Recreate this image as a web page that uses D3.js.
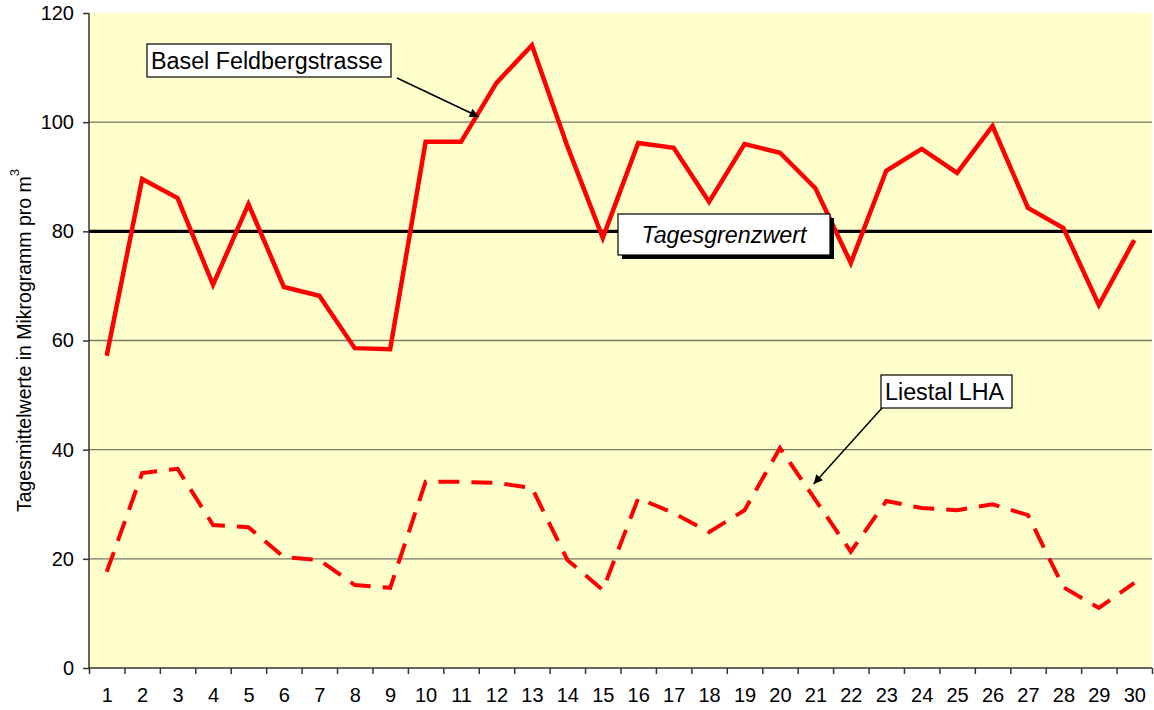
<!DOCTYPE html>
<html>
<head>
<meta charset="utf-8">
<script src="https://cdn.jsdelivr.net/npm/d3@7"></script>
<style>
    body { margin: 0; background: #ffffff; }
    svg { font-family: "Liberation Sans", Arial, sans-serif; display: block; }
</style>
</head>
<body>
<div id="chart"></div>
<script>
// days of the month
var days = d3.range(1, 31);

// Tagesmittelwerte (Mikrogramm pro m3)
var basel = [57.2, 89.6, 86.1, 70.2, 85.0, 69.8, 68.2, 58.6, 58.4, 96.4,
             96.4, 107.2, 114.1, 95.6, 78.8, 96.2, 95.3, 85.4, 96.0, 94.4,
             87.9, 74.2, 91.1, 95.1, 90.7, 99.3, 84.3, 80.6, 66.5, 78.4];
var liestal = [17.6, 35.7, 36.5, 26.2, 25.8, 20.3, 19.8, 15.2, 14.7, 34.1,
               34.1, 33.9, 33.0, 19.8, 14.3, 31.1, 28.4, 24.9, 28.9, 40.3,
               30.8, 21.3, 30.6, 29.3, 28.9, 30.0, 28.0, 14.8, 11.0, 15.6];
var grenzwert = 80;
var yTicks = [0, 20, 40, 60, 80, 100, 120];

(function(){

    var width = 1154,
        height = 710;
    var margin = {top: 13, right: 2, bottom: 42, left: 89};
    var plotW = width - margin.left - margin.right,
        plotH = height - margin.top - margin.bottom;

    var svg = d3.select("#chart")
        .append("svg")
        .attr("width", width)
        .attr("height", height);

    // arrow head
    svg.append("defs").append("marker")
        .attr("id", "arrow")
        .attr("viewBox", "0 0 10 10")
        .attr("refX", 10)
        .attr("refY", 5)
        .attr("markerWidth", 8)
        .attr("markerHeight", 6)
        .attr("markerUnits", "strokeWidth")
        .attr("orient", "auto")
        .append("path")
        .attr("d", "M0,0 L10,5 L0,10 Z")
        .attr("fill", "#000");

    var g = svg.append("g")
        .attr("transform", "translate(" + margin.left + "," + margin.top + ")");

    // categories sit in the middle of their slot
    var x = d3.scaleLinear().domain([0.5, 30.5]).range([0, plotW]);
    var y = d3.scaleLinear().domain([0, 120]).range([plotH, 0]);

    g.append("rect")
        .attr("width", plotW)
        .attr("height", plotH)
        .attr("fill", "#ffffcc");

    // gridlines
    g.selectAll(".grid")
        .data(yTicks.filter(function(d){ return d > 0 && d < 120; }))
        .enter()
        .append("line")
        .attr("class", "grid")
        .attr("x1", 0)
        .attr("x2", plotW)
        .attr("y1", function(d){ return y(d); })
        .attr("y2", function(d){ return y(d); })
        .attr("stroke", "#77776a")
        .attr("stroke-width", 1.3);

    // y axis
    var yAxis = g.append("g")
        .call(d3.axisLeft(y).tickValues(yTicks).tickSize(6).tickPadding(9));
    yAxis.selectAll("text").attr("font-size", "20px").attr("fill", "#000");
    yAxis.selectAll("line, path").attr("stroke", "#333").attr("stroke-width", 1.5);
    yAxis.select(".domain").attr("d", "M0," + plotH + "V0");

    // x axis: tick marks between days, labels at days
    var xTickAxis = g.append("g")
        .attr("transform", "translate(0," + plotH + ")")
        .call(d3.axisBottom(x).tickValues(d3.range(0.5, 31, 1)).tickSize(6).tickFormat(""));
    xTickAxis.selectAll("line, path").attr("stroke", "#333").attr("stroke-width", 1.5);
    xTickAxis.select(".domain").attr("d", "M0,0H" + plotW);

    var xLabelAxis = g.append("g")
        .attr("transform", "translate(0," + plotH + ")")
        .call(d3.axisBottom(x).tickValues(days).tickSize(0).tickPadding(20).tickFormat(d3.format("d")));
    xLabelAxis.select(".domain").remove();
    xLabelAxis.selectAll("text").attr("font-size", "20px").attr("fill", "#000");

    // y axis title
    var yTitle = svg.append("text")
        .attr("transform", "translate(24," + (margin.top + plotH / 2) + ") rotate(-90)")
        .attr("text-anchor", "middle")
        .attr("font-size", "19.5px")
        .attr("dy", "0.35em");
    yTitle.append("tspan").text("Tagesmittelwerte in Mikrogramm pro m");
    yTitle.append("tspan").attr("font-size", "13px").attr("dy", "-0.9em").text("3");

    // limit line
    g.append("line")
        .attr("x1", 0)
        .attr("x2", plotW)
        .attr("y1", y(grenzwert))
        .attr("y2", y(grenzwert))
        .attr("stroke", "#000")
        .attr("stroke-width", 3.2);

    var line = d3.line()
        .x(function(d, i){ return x(days[i]); })
        .y(function(d){ return y(d); });

    g.append("path")
        .datum(liestal)
        .attr("d", line)
        .attr("fill", "none")
        .attr("stroke", "#ff0000")
        .attr("stroke-width", 4)
        .attr("stroke-dasharray", "21,12");

    g.append("path")
        .datum(basel)
        .attr("d", line)
        .attr("fill", "none")
        .attr("stroke", "#ff0000")
        .attr("stroke-width", 4.5);

    // labels with arrows
    function addLabel(box, tip, text){
        g.append("line")
            .attr("x1", box.ax)
            .attr("y1", box.ay)
            .attr("x2", x(tip[0]))
            .attr("y2", y(tip[1]))
            .attr("stroke", "#000")
            .attr("stroke-width", 1.5)
            .attr("marker-end", "url(#arrow)");
        g.append("rect")
            .attr("x", box.x)
            .attr("y", box.y)
            .attr("width", box.w)
            .attr("height", box.h)
            .attr("fill", "#fff")
            .attr("stroke", "#000")
            .attr("stroke-width", 1.2);
        g.append("text")
            .attr("x", box.x + 4)
            .attr("y", box.y + box.h / 2)
            .attr("dy", "0.36em")
            .attr("font-size", "23.3px")
            .text(text);
    }

    addLabel({x: 58, y: 31, w: 244, h: 33, ax: 308, ay: 65}, [11.5, 101], "Basel Feldbergstrasse");
    addLabel({x: 792, y: 362, w: 131, h: 33, ax: 793, ay: 395}, [20.95, 33.7], "Liestal LHA");

    // Tagesgrenzwert box with shadow
    var gb = {x: 529, y: 201, w: 212, h: 41};
    g.append("rect")
        .attr("x", gb.x + 4)
        .attr("y", gb.y + 4)
        .attr("width", gb.w)
        .attr("height", gb.h)
        .attr("fill", "#000");
    g.append("rect")
        .attr("x", gb.x)
        .attr("y", gb.y)
        .attr("width", gb.w)
        .attr("height", gb.h)
        .attr("fill", "#fff")
        .attr("stroke", "#000")
        .attr("stroke-width", 1.2);
    g.append("text")
        .attr("x", gb.x + gb.w / 2)
        .attr("y", gb.y + gb.h / 2)
        .attr("dy", "0.36em")
        .attr("text-anchor", "middle")
        .attr("font-size", "23.3px")
        .attr("font-style", "italic")
        .text("Tagesgrenzwert");

})();
</script>
</body>
</html>
